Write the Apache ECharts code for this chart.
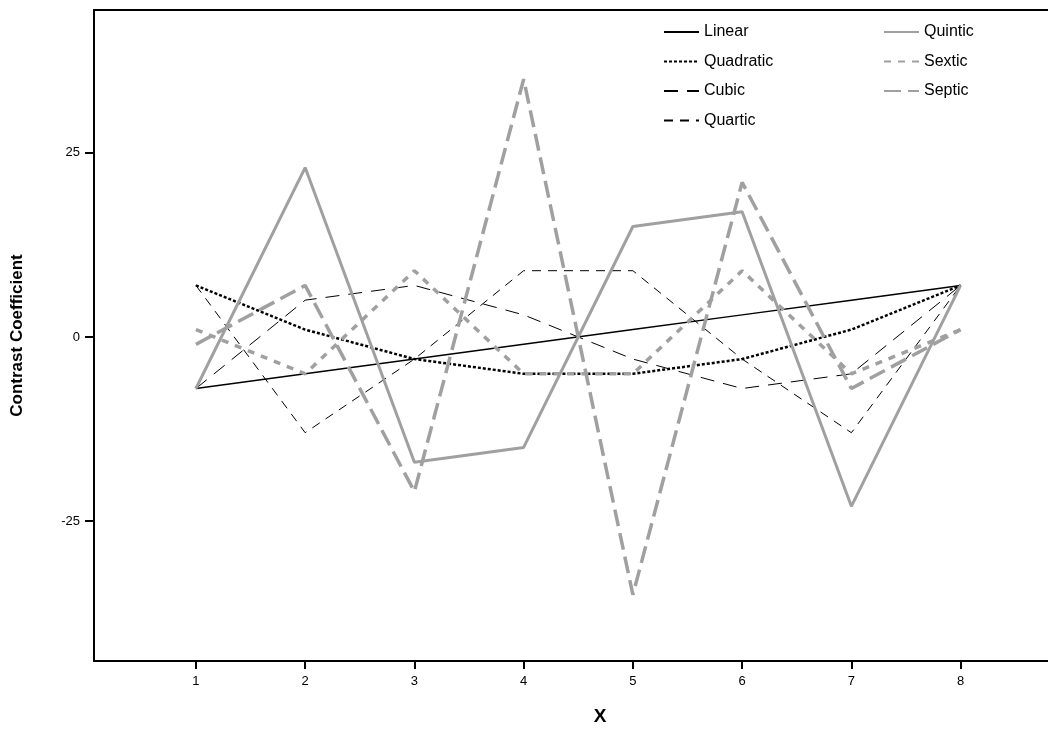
<!DOCTYPE html>
<html>
<head>
<meta charset="utf-8">
<script src="https://cdn.jsdelivr.net/npm/echarts@6/dist/echarts.min.js"></script>
<style>
  html, body { margin: 0; padding: 0; background: #fff; }
  #chart { width: 1048px; height: 735px; }
</style>
</head>
<body>
<div id="chart"></div>
<script>
// contrast coefficients for 8 levels
var xLevels = [1, 2, 3, 4, 5, 6, 7, 8];
var linear = [-7, -5, -3, -1, 1, 3, 5, 7];
var quadratic = [7, 1, -3, -5, -5, -3, 1, 7];
var cubic = [-7, 5, 7, 3, -3, -7, -5, 7];
var quartic = [7, -13, -3, 9, 9, -3, -13, 7];
var quintic = [-7, 23, -17, -15, 15, 17, -23, 7];
var sextic = [1, -5, 9, -5, -5, 9, -5, 1];
var septic = [-1, 7, -21, 35, -35, 21, -7, 1];
var yTicks = [-25, 0, 25];

var gray = '#a0a0a0';

function pairs(vals) {
    return vals.map(function (v, i) { return [xLevels[i], v]; });
}

function mkSeries(name, vals, color, width, dash) {
    return {
        name: name,
        type: 'line',
        data: pairs(vals),
        symbol: 'none',
        silent: true,
        lineStyle: { color: color, width: width, type: dash },
        itemStyle: { color: color }
    };
}

var myChart = echarts.init(document.getElementById('chart'));

var legendText = { fontFamily: 'Liberation Sans', fontSize: 16, color: '#000' };
// hide the dot that line legends draw, keep only the line sample
var legendDot = { opacity: 0 };

var option = {
    animation: false,
    grid: { left: 94, right: 0, top: 10, bottom: 74 },
    legend: [
        {
            data: ['Linear', 'Quadratic', 'Cubic', 'Quartic'],
            orient: 'vertical', left: 658, top: 19,
            itemWidth: 35, itemHeight: 14, itemGap: 13.5,
            itemStyle: legendDot,
            textStyle: legendText
        },
        {
            data: ['Quintic', 'Sextic', 'Septic'],
            orient: 'vertical', left: 878, top: 19,
            itemWidth: 35, itemHeight: 14, itemGap: 13.5,
            itemStyle: legendDot,
            textStyle: legendText
        }
    ],
    xAxis: [
        {
            type: 'value', min: 0.067, max: 8.8,
            name: 'X', nameLocation: 'middle', nameGap: 46,
            nameTextStyle: { fontFamily: 'Liberation Sans', fontSize: 19, fontWeight: 'bold', color: '#000', padding: [0, 0, 0, 58] },
            axisLine: { onZero: false, lineStyle: { color: '#000', width: 2 } },
            axisTick: { customValues: xLevels, length: 8, lineStyle: { color: '#000', width: 2 } },
            axisLabel: { customValues: xLevels, fontFamily: 'Liberation Sans', fontSize: 13, color: '#000', margin: 14 },
            splitLine: { show: false }
        },
        {
            // top frame line only
            type: 'value', position: 'top', min: 0.067, max: 8.8,
            axisLine: { show: true, onZero: false, lineStyle: { color: '#000', width: 2 } },
            axisTick: { show: false },
            axisLabel: { show: false },
            splitLine: { show: false }
        }
    ],
    yAxis: {
        type: 'value', min: -44, max: 44.4,
        name: 'Contrast Coefficient', nameLocation: 'middle', nameGap: 68,
        nameTextStyle: { fontFamily: 'Liberation Sans', fontSize: 17, fontWeight: 'bold', color: '#000' },
        axisLine: { show: true, onZero: false, lineStyle: { color: '#000', width: 2 } },
        axisTick: { show: true, customValues: yTicks, length: 9, lineStyle: { color: '#000', width: 2 } },
        axisLabel: { customValues: yTicks, fontFamily: 'Liberation Sans', fontSize: 13, color: '#000', margin: 14 },
        splitLine: { show: false }
    },
    series: [
        mkSeries('Linear', linear, '#000', 1.5, 'solid'),
        mkSeries('Quadratic', quadratic, '#000', 2.5, [3, 2]),
        mkSeries('Cubic', cubic, '#000', 1, [14, 9]),
        mkSeries('Quartic', quartic, '#000', 1, [9, 7]),
        mkSeries('Quintic', quintic, gray, 3, 'solid'),
        mkSeries('Sextic', sextic, gray, 3.5, [7, 7]),
        mkSeries('Septic', septic, gray, 3.5, [17, 7])
    ]
};

myChart.setOption(option);
</script>
</body>
</html>
